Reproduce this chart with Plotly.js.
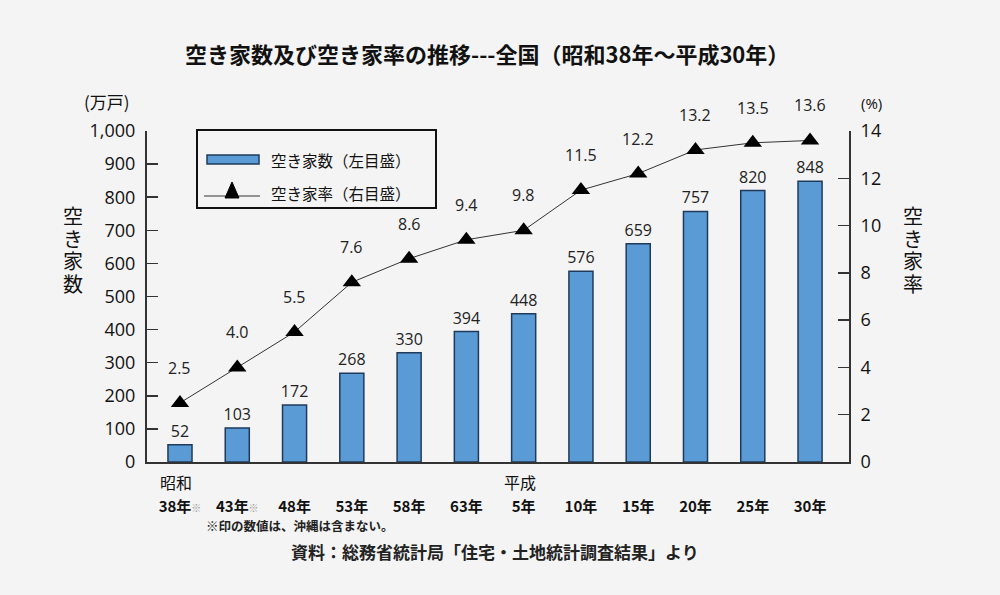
<!DOCTYPE html>
<html><head><meta charset="utf-8">
<script src="https://cdn.plot.ly/plotly-3.0.1.min.js"></script>
<style>body{margin:0;background:#f4f4f4;}#chart{width:1000px;height:595px;}</style>
</head><body><div id="chart"></div>
<script>
// ---- data ----
const years = ['38年','43年','48年','53年','58年','63年','5年','10年','15年','20年','25年','30年'];
const eras = ['昭和','','','','','','平成','','','','',''];
const notes = ['※','※','','','','','','','','','',''];
const counts = [52,103,172,268,330,394,448,576,659,757,820,848];
const rates = [2.5,4.0,5.5,7.6,8.6,9.4,9.8,11.5,12.2,13.2,13.5,13.6];

const idx = years.map((_,i)=>i);
const FONT = 'Open Sans, "Noto Sans CJK JP", sans-serif';
const JP = '"Noto Sans CJK JP", sans-serif';
const L=147, R=849, T=131, B=462;
const px = x => (x-L)/(R-L);
const py = y => (B-y)/(B-T);

const bars = {
  type:'bar', x:idx, y:counts, width:0.42,
  marker:{color:'#5b9bd5', line:{color:'#1f3b5c', width:1.5}},
  text:counts.map(String), textposition:'outside', cliponaxis:false, constraintext:'none',
  textfont:{family:FONT, size:16, color:'#222'}, hoverinfo:'skip'
};
const line = {
  type:'scatter', mode:'lines+markers', x:idx, y:rates, yaxis:'y2',
  line:{color:'#333', width:1},
  marker:{symbol:'triangle-up', size:16, color:'#000'}, hoverinfo:'skip'
};

const ann = [];
rates.forEach((v,i)=>ann.push({x:i, y:v, xref:'x', yref:'y2', text:v.toFixed(1), showarrow:false,
  yshift:35, font:{family:FONT, size:16, color:'#222'}}));
eras.forEach((e,i)=>{ if(e) ann.push({x:i, y:0, xref:'x', yref:'paper', text:e, showarrow:false,
  yanchor:'top', yshift:-6, xshift:-4, font:{family:JP, size:16, color:'#111'}}); });
function paperAnn(xp, yp, text, size, xanchor, extra){
  return Object.assign({x:px(xp), y:py(yp), xref:'paper', yref:'paper', text:text, showarrow:false,
    xanchor:xanchor||'center', yanchor:'middle', font:{family:JP, size:size, color:'#111'}}, extra||{});
}
ann.push(paperAnn(487,53,'<b>空き家数及び空き家率の推移---全国（昭和38年～平成30年）</b>',22));
ann.push(paperAnn(107,101,'(万戸)',17));
ann.push(paperAnn(871,103,'(%)',15,'center',{font:{family:FONT,size:15,color:'#111'}}));
['空','き','家','数'].forEach((c,i)=>ann.push(paperAnn(73,215+22.5*i,c,20,'center',{height:22})));
['空','き','家','率'].forEach((c,i)=>ann.push(paperAnn(913,215+22.5*i,c,20,'center',{height:22})));
ann.push(paperAnn(269,160,'空き家数（左目盛）',15.5,'left'));
ann.push(paperAnn(269,193,'空き家率（右目盛）',15.5,'left'));
ann.push(paperAnn(204,525,'<b>※印の数値は、沖縄は含まない。</b>',12.5,'left',{font:{family:JP,size:12.5,color:'#222'}}));
ann.push(paperAnn(495,551,'<b>資料：総務省統計局「住宅・土地統計調査結果」より</b>',17,'center',{font:{family:JP,size:17,color:'#222'}}));

const shapes = [
  {type:'rect', xref:'paper', yref:'paper', x0:px(197), x1:px(436), y0:py(130), y1:py(208), line:{color:'#111', width:2}, fillcolor:'#f4f4f4'},
  {type:'rect', xref:'paper', yref:'paper', x0:px(207), x1:px(259), y0:py(155), y1:py(164), line:{color:'#1f3b5c', width:1.5}, fillcolor:'#5b9bd5'},
  {type:'line', xref:'paper', yref:'paper', x0:px(204), x1:px(260), y0:py(196), y1:py(196), line:{color:'#333', width:1}},
  {type:'path', xref:'paper', yref:'paper', path:`M ${px(225)} ${py(198)} L ${px(239)} ${py(198)} L ${px(232)} ${py(182)} Z`, fillcolor:'#000', line:{color:'#000', width:1}}
];

const layout = {
  width:1000, height:595, paper_bgcolor:'#f4f4f4', plot_bgcolor:'#f4f4f4',
  margin:{l:L, r:1000-R, t:T, b:595-B}, showlegend:false,
  font:{family:FONT, color:'#111'},
  xaxis:{range:[-0.576,11.68], tickvals:idx,
    ticktext:years.map((y,i)=>'<b>'+y+'</b>'+(notes[i]?'<span style="font-size:10px;color:#999">'+notes[i]+'</span>':'')),
    tickfont:{family:JP, size:15, color:'#111'}, showline:true, linecolor:'#333', linewidth:2,
    ticks:'', showgrid:false, zeroline:false, ticklabelstandoff:30, fixedrange:true},
  yaxis:{range:[0,1000], tickvals:[0,100,200,300,400,500,600,700,800,900,1000],
    ticktext:['0','100','200','300','400','500','600','700','800','900','1,000'],
    tickfont:{family:FONT, size:18, color:'#111'}, ticks:'inside', ticklen:11, tickcolor:'#333', tickwidth:1.5,
    showline:true, linecolor:'#333', linewidth:2, showgrid:false, zeroline:false, ticklabelstandoff:6},
  yaxis2:{range:[0,14], overlaying:'y', side:'right', tickvals:[0,2,4,6,8,10,12,14],
    tickfont:{family:FONT, size:18, color:'#111'}, ticks:'inside', ticklen:11, tickcolor:'#333', tickwidth:1.5,
    showline:true, linecolor:'#333', linewidth:2, showgrid:false, zeroline:false, ticklabelstandoff:6},
  annotations:ann, shapes:shapes
};
Plotly.newPlot('chart',[bars,line],layout,{displayModeBar:false,staticPlot:true});
</script></body></html>
